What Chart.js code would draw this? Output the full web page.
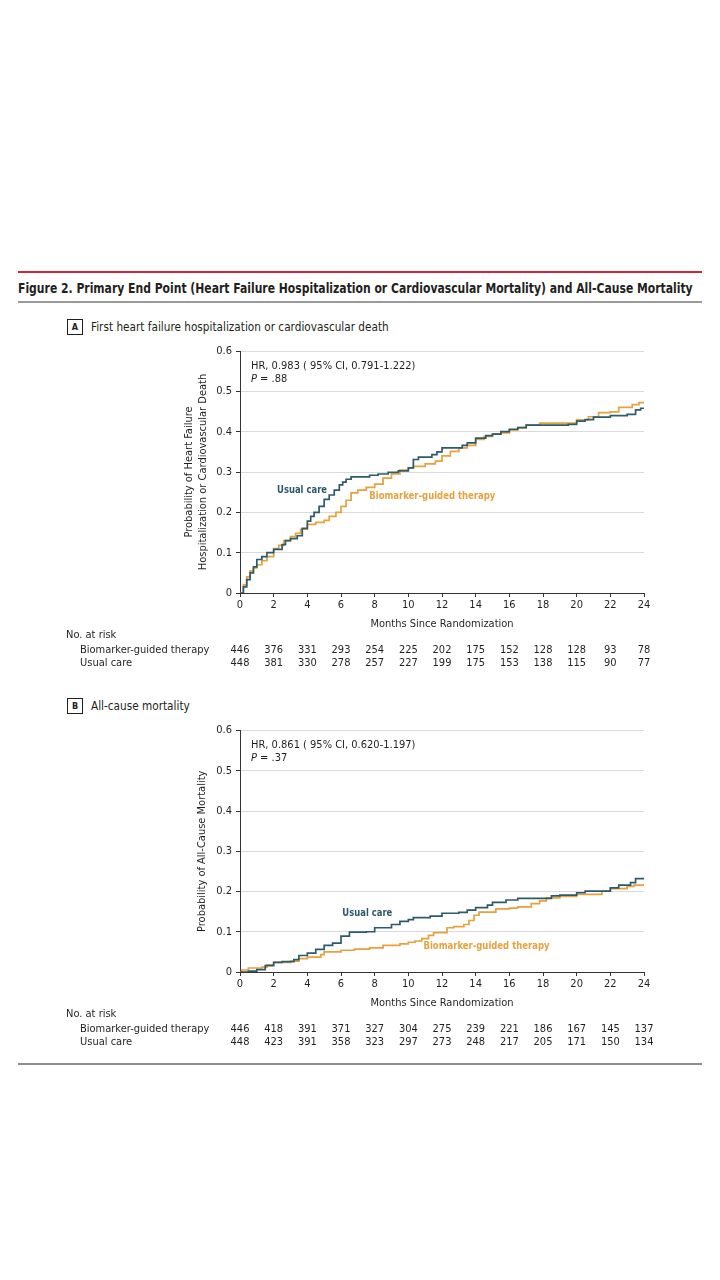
<!DOCTYPE html>
<html lang="en">
<head>
  <meta charset="UTF-8">
  <title>Figure 2. Primary End Point and All-Cause Mortality</title>
  <script src="https://cdn.jsdelivr.net/npm/chart.js"></script>
  <style>
    body {
      margin: 0;
      background: #fff;
      width: 720px;
      height: 1280px;
      position: relative;
      font-family: 'Liberation Sans Narrow', 'DejaVu Sans Condensed', 'Roboto', sans-serif;
      color: #231f20;
    }
    .abs { position: absolute; }
    .rule-red { left: 18px; width: 684px; top: 271px; height: 2px; background: #d2243a; }
    .rule-gray { left: 18px; width: 684px; top: 301px; height: 2px; background: #9b9b9b; }
    .rule-bottom { left: 18px; width: 684px; top: 1063px; height: 2px; background: #8e8e8e; }
    .title { left: 18px; top: 279px; font-size: 14px; line-height: 18px; font-weight: 600; white-space: nowrap; transform-origin: 0 50%; }
    .box { width: 14px; height: 14px; border: 1px solid #231f20; font-size: 9px; font-weight: 700; text-align: center; line-height: 14px; }
    .panel-label { font-size: 11.7px; line-height: 14px; white-space: nowrap; }
  </style>
</head>
<body>
  <div class="abs rule-red"></div>
  <div class="abs title" id="figTitle">Figure 2. Primary End Point (Heart Failure Hospitalization or Cardiovascular Mortality) and All-Cause Mortality</div>
  <div class="abs rule-gray"></div>

  <div class="abs box" style="left:67px; top:319px;">A</div>
  <div class="abs panel-label" style="left:91px; top:320px;">First heart failure hospitalization or cardiovascular death</div>
  <canvas id="chartA" class="abs" style="left:50px; top:340px;" width="620" height="335"></canvas>

  <div class="abs box" style="left:67px; top:698px;">B</div>
  <div class="abs panel-label" style="left:91px; top:699px;">All-cause mortality</div>
  <canvas id="chartB" class="abs" style="left:50px; top:720px;" width="620" height="335"></canvas>

  <div class="abs rule-bottom"></div>

  <script>
    const FF = "'Liberation Sans Narrow', 'DejaVu Sans Condensed', 'Roboto', sans-serif";
    const TEAL = '#2e5b6b';
    const ORANGE = '#e8a13c';
    const INK = '#231f20';

    // squeeze the figure title to the width it has in the print layout
    const figTitle = document.getElementById('figTitle');
    figTitle.style.transform = `scaleX(${Math.min(1, 675 / figTitle.scrollWidth)})`;

    // months shown under the axis and in the risk tables
    const riskMonths = [0, 2, 4, 6, 8, 10, 12, 14, 16, 18, 20, 22, 24];

    // Panel A: first HF hospitalization or CV death
    const aUsualT = [0, 0.2, 0.4, 0.6, 0.8, 1.0, 1.3, 1.6, 2.0, 2.5, 2.7, 3.0, 3.4, 3.7, 4.0, 4.2, 4.4, 4.7, 5.0, 5.3, 5.6, 5.9, 6.1, 6.3, 6.6, 7.7, 8.2, 8.8, 9.4, 10.0, 10.3, 10.6, 11.4, 11.7, 12.0, 13.2, 13.5, 14.0, 14.6, 15.0, 15.5, 16.0, 16.5, 17.0, 19.5, 20.0, 20.5, 21.0, 22.0, 23.0, 23.5, 23.8, 24.0];
    const aUsualP = [0, 0.015, 0.033, 0.05, 0.065, 0.083, 0.09, 0.1, 0.108, 0.12, 0.13, 0.135, 0.142, 0.16, 0.178, 0.19, 0.2, 0.215, 0.232, 0.243, 0.255, 0.268, 0.275, 0.282, 0.288, 0.292, 0.295, 0.299, 0.303, 0.31, 0.331, 0.337, 0.343, 0.35, 0.36, 0.366, 0.372, 0.384, 0.39, 0.394, 0.4, 0.406, 0.41, 0.416, 0.418, 0.426, 0.43, 0.436, 0.44, 0.443, 0.454, 0.458, 0.458];
    const aBioT = [0, 0.2, 0.4, 0.6, 0.8, 1.0, 1.3, 1.6, 2.0, 2.3, 2.6, 3.0, 3.3, 3.6, 4.0, 4.5, 5.0, 5.3, 5.7, 6.0, 6.3, 6.6, 7.0, 7.5, 8.0, 8.5, 9.0, 9.5, 10.0, 10.3, 11.0, 11.6, 12.0, 12.5, 13.0, 13.5, 14.0, 14.5, 15.0, 15.5, 16.0, 16.5, 17.0, 17.8, 19.5, 20.0, 20.7, 21.3, 22.0, 22.5, 23.3, 23.7, 24.0];
    const aBioP = [0, 0.02, 0.04, 0.055, 0.062, 0.07, 0.08, 0.09, 0.11, 0.118, 0.13, 0.14, 0.148, 0.158, 0.17, 0.175, 0.18, 0.19, 0.2, 0.215, 0.23, 0.248, 0.255, 0.262, 0.27, 0.285, 0.295, 0.305, 0.31, 0.314, 0.32, 0.327, 0.34, 0.351, 0.36, 0.366, 0.381, 0.388, 0.394, 0.397, 0.404, 0.41, 0.416, 0.421, 0.421, 0.429, 0.437, 0.447, 0.449, 0.46, 0.467, 0.472, 0.472];
    const aRiskBio = [446, 376, 331, 293, 254, 225, 202, 175, 152, 128, 128, 93, 78];
    const aRiskUsual = [448, 381, 330, 278, 257, 227, 199, 175, 153, 138, 115, 90, 77];

    // Panel B: all-cause mortality
    const bUsualT = [0, 0.5, 1.0, 1.5, 2.0, 2.5, 3.2, 3.5, 4.0, 4.5, 5.0, 5.5, 6.0, 6.5, 7.5, 8.0, 9.0, 9.5, 10.0, 10.3, 11.3, 12.0, 13.0, 13.5, 14.0, 14.7, 15.0, 15.8, 16.5, 18.5, 19.0, 20.0, 20.5, 22.0, 22.5, 23.2, 23.5, 24.0];
    const bUsualP = [0, 0.002, 0.006, 0.016, 0.024, 0.026, 0.031, 0.041, 0.047, 0.056, 0.066, 0.072, 0.089, 0.099, 0.1, 0.11, 0.118, 0.126, 0.13, 0.135, 0.139, 0.146, 0.148, 0.154, 0.16, 0.166, 0.173, 0.179, 0.183, 0.189, 0.191, 0.197, 0.201, 0.209, 0.216, 0.222, 0.232, 0.235];
    const bBioT = [0, 0.1, 0.5, 1.3, 1.6, 2.0, 3.0, 3.5, 4.0, 4.8, 5.0, 6.0, 6.8, 7.7, 8.5, 9.5, 10.0, 10.4, 10.8, 11.2, 11.5, 12.3, 12.7, 13.3, 13.6, 13.9, 14.2, 15.2, 16.0, 16.5, 17.3, 17.8, 18.2, 19.0, 20.0, 21.5, 22.0, 23.0, 23.4, 24.0];
    const bBioP = [0, 0.005, 0.01, 0.012, 0.018, 0.024, 0.027, 0.033, 0.037, 0.043, 0.05, 0.054, 0.057, 0.06, 0.066, 0.07, 0.074, 0.077, 0.083, 0.091, 0.098, 0.11, 0.113, 0.118, 0.128, 0.141, 0.149, 0.157, 0.159, 0.162, 0.17, 0.177, 0.184, 0.188, 0.193, 0.201, 0.207, 0.213, 0.216, 0.216];
    const bRiskBio = [446, 418, 391, 371, 327, 304, 275, 239, 221, 186, 167, 145, 137];
    const bRiskUsual = [448, 423, 391, 358, 323, 297, 273, 248, 217, 205, 171, 150, 134];

    const toPoints = (t, p) => t.map((x, i) => ({ x: x, y: p[i] }));

    // draws HR text, curve labels and the number-at-risk table
    const annotate = {
      id: 'annotate',
      afterDraw(chart, args, opts) {
        const { ctx, chartArea, scales: { x, y } } = chart;
        ctx.save();
        ctx.textBaseline = 'middle';
        ctx.textAlign = 'left';
        ctx.fillStyle = INK;
        ctx.font = `11px ${FF}`;
        ctx.fillText(opts.hr, chartArea.left + 11, chartArea.top + 15);
        ctx.font = `italic 11px ${FF}`;
        ctx.fillText('P', chartArea.left + 11, chartArea.top + 28);
        const pw = ctx.measureText('P').width;
        ctx.font = `11px ${FF}`;
        ctx.fillText(' = ' + opts.p, chartArea.left + 11 + pw, chartArea.top + 28);

        // curve labels: bold, condensed to the printed width
        opts.labels.forEach(l => {
          ctx.save();
          ctx.fillStyle = l.color;
          ctx.font = `bold 10.5px ${FF}`;
          const w = ctx.measureText(l.text).width;
          const px = x.getPixelForValue(l.x);
          ctx.translate(px, y.getPixelForValue(l.y));
          ctx.scale(Math.min(1, l.w / w), 1);
          ctx.fillText(l.text, 0, 0);
          ctx.restore();
        });

        const base = chartArea.bottom;
        ctx.fillStyle = INK;
        ctx.font = `11px ${FF}`;
        ctx.fillText('No. at risk', 16, base + 42.5);
        ctx.fillText('Biomarker-guided therapy', 30, base + 57);
        ctx.fillText('Usual care', 30, base + 70.5);
        ctx.textAlign = 'center';
        riskMonths.forEach((m, i) => {
          const px = x.getPixelForValue(m);
          ctx.fillText(String(opts.riskBio[i]), px, base + 57);
          ctx.fillText(String(opts.riskUsual[i]), px, base + 70.5);
        });
        ctx.restore();
      }
    };

    function makeChart(id, cfg) {
      return new Chart(document.getElementById(id), {
        type: 'line',
        data: {
          datasets: [
            { label: 'Usual care', data: toPoints(cfg.usualT, cfg.usualP), borderColor: TEAL },
            { label: 'Biomarker-guided therapy', data: toPoints(cfg.bioT, cfg.bioP), borderColor: ORANGE }
          ]
        },
        options: {
          responsive: false,
          animation: false,
          datasets: { line: { stepped: true, pointRadius: 0, borderWidth: 1.7, fill: false } },
          layout: { padding: cfg.padding },
          plugins: {
            legend: { display: false },
            tooltip: { enabled: false },
            annotate: cfg.annot
          },
          scales: {
            x: {
              type: 'linear', min: 0, max: 24,
              ticks: { stepSize: 2, padding: 2, color: INK, font: { family: FF, size: 11 }, maxRotation: 0, autoSkip: false },
              grid: { drawOnChartArea: false, tickColor: '#333', tickLength: 4 },
              border: { color: '#333', width: 1 },
              title: { display: true, text: 'Months Since Randomization', color: INK, padding: 0, font: { family: FF, size: 11 } },
              afterFit(s) { s.height = 38; }
            },
            y: {
              min: 0, max: 0.6,
              ticks: { stepSize: 0.1, padding: 4, color: INK, font: { family: FF, size: 11 },
                callback: v => String(Math.round(v * 10) / 10) },
              grid: { color: '#dadada', tickColor: '#333', tickLength: 4 },
              border: { color: '#333', width: 1 },
              title: { display: true, text: cfg.yTitle, color: INK, padding: 0, font: { family: FF, size: 11 } },
              afterFit(s) { s.width = cfg.yWidth; }
            }
          }
        },
        plugins: [annotate]
      });
    }

    makeChart('chartA', {
      usualT: aUsualT, usualP: aUsualP, bioT: aBioT, bioP: aBioP,
      padding: { left: 133, top: 11, right: 26, bottom: 44 },
      yWidth: 57,
      yTitle: ['Probability of Heart Failure', 'Hospitalization or Cardiovascular Death'],
      annot: {
        hr: 'HR, 0.983 ( 95% CI, 0.791-1.222)', p: '.88',
        riskBio: aRiskBio, riskUsual: aRiskUsual,
        labels: [
          { text: 'Usual care', x: 2.2, y: 0.255, w: 50, color: TEAL },
          { text: 'Biomarker-guided therapy', x: 7.68, y: 0.24, w: 126, color: ORANGE }
        ]
      }
    });

    makeChart('chartB', {
      usualT: bUsualT, usualP: bUsualP, bioT: bBioT, bioP: bBioP,
      padding: { left: 146, top: 10, right: 26, bottom: 45 },
      yWidth: 44,
      yTitle: 'Probability of All-Cause Mortality',
      annot: {
        hr: 'HR, 0.861 ( 95% CI, 0.620-1.197)', p: '.37',
        riskBio: bRiskBio, riskUsual: bRiskUsual,
        labels: [
          { text: 'Usual care', x: 6.08, y: 0.146, w: 50, color: TEAL },
          { text: 'Biomarker-guided therapy', x: 10.9, y: 0.0635, w: 126, color: ORANGE }
        ]
      }
    });
  </script>
</body>
</html>
